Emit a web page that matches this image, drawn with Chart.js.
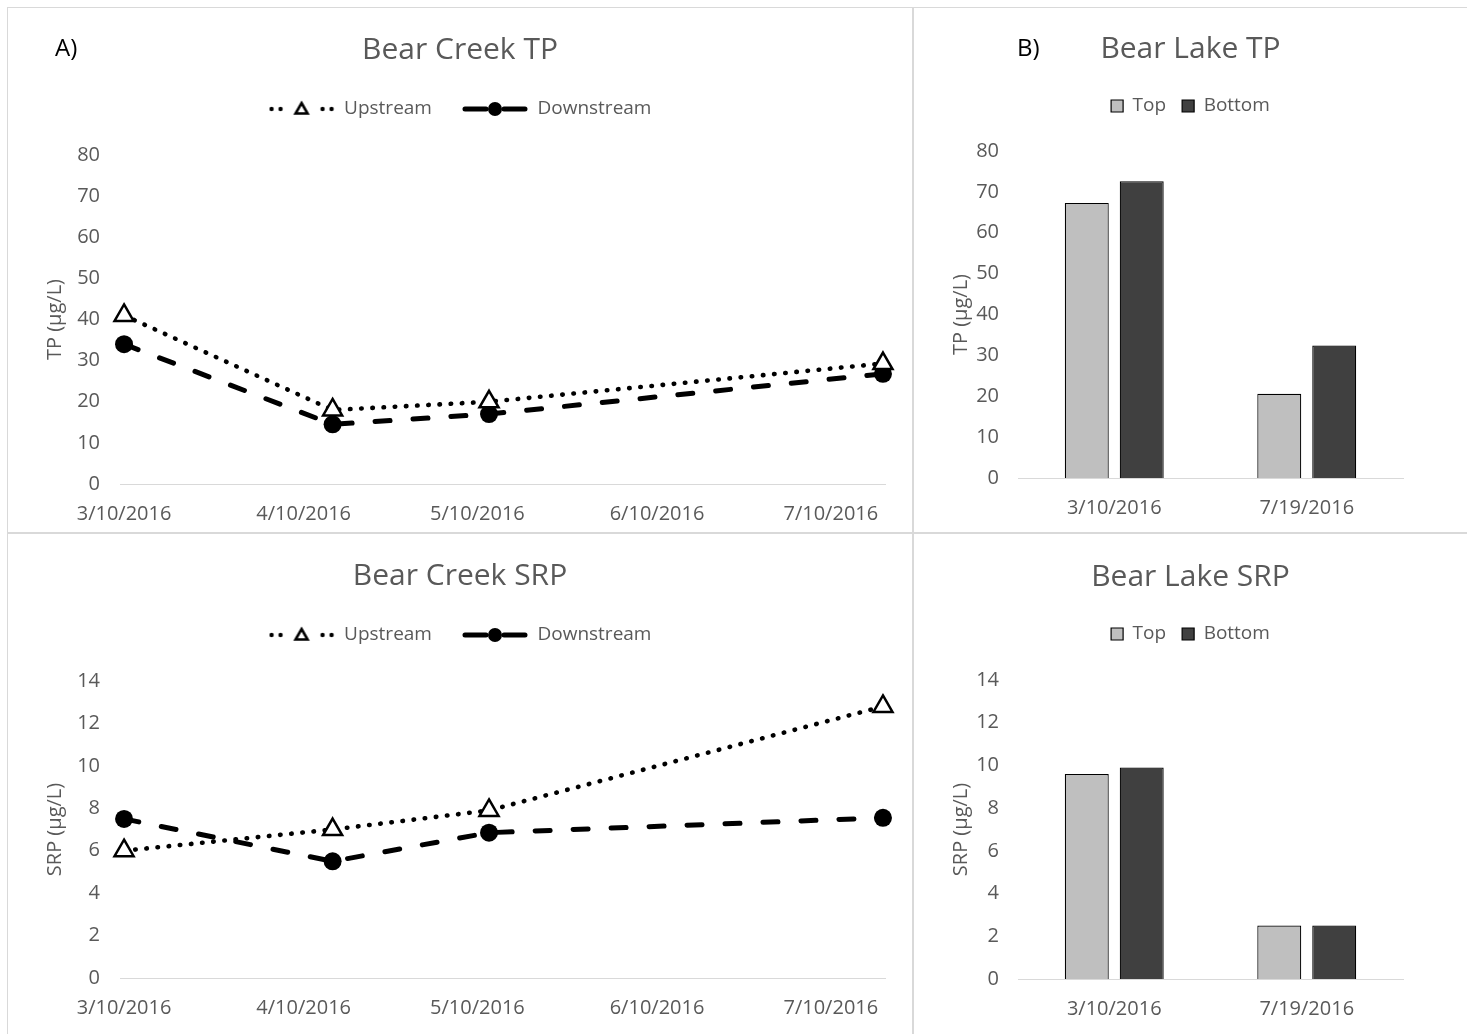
<!DOCTYPE html>
<html>
<head>
<meta charset="utf-8">
<script src="https://cdn.jsdelivr.net/npm/chart.js@4.4.1/dist/chart.umd.min.js"></script>
<style>
body{margin:0;background:#fff;width:1467px;height:1034px;overflow:hidden;position:relative;}
.painel{position:absolute;border:1px solid #d9d9d9;}
.painel canvas{display:block;}
#p1{left:7px;top:7px;}
#p2{left:913px;top:7px;}
#p3{left:7px;top:533px;}
#p4{left:913px;top:533px;}
</style>
</head>
<body>

<div class="painel" id="p1"><canvas id="graficoCreekTP" width="904" height="524"></canvas></div>
<div class="painel" id="p2"><canvas id="graficoLakeTP" width="553" height="524"></canvas></div>
<div class="painel" id="p3"><canvas id="graficoCreekSRP" width="904" height="500"></canvas></div>
<div class="painel" id="p4"><canvas id="graficoLakeSRP" width="553" height="500"></canvas></div>

<script>

// datas das coletas no riacho e rótulos do eixo x
const datasCreek = ["3/10/2016", "4/15/2016", "5/12/2016", "7/19/2016"];
const datasEixo = ["3/10/2016", "4/10/2016", "5/10/2016", "6/10/2016", "7/10/2016"];

const tpUpstream = [41, 18, 20, 29.3];
const tpDownstream = [34, 14.5, 17, 26.8];

const srpUpstream = [6.0, 7.0, 7.9, 12.8];
const srpDownstream = [7.5, 5.5, 6.85, 7.55];

// lago
const datasLake = ["3/10/2016", "7/19/2016"];

const tpTop = [67.3, 20.6];
const tpBottom = [72.6, 32.4];

const srpTop = [9.6, 2.5];
const srpBottom = [9.9, 2.5];

const FONTE = "'Open Sans', sans-serif";
const CINZA = "#595959";

Chart.defaults.font.family = FONTE;
Chart.defaults.color = CINZA;

///////////////////////////////////////////////////////////////

function diasDesde(data){

    const [m, d, a] = data.split("/").map(Number);

    return (Date.UTC(a, m - 1, d) - Date.UTC(2016, 2, 10)) / 86400000;

}

///////////////////////////////////////////////////////////////

// marcadores da legenda (linha + símbolo), como no Excel

function criarMarcadorUpstream(){

    const c = document.createElement("canvas");
    c.width = 66;
    c.height = 20;
    const ctx = c.getContext("2d");

    ctx.fillStyle = "#000";
    [3, 12, 54, 63].forEach(x => {
        ctx.beginPath();
        ctx.arc(x, 10, 2.2, 0, Math.PI * 2);
        ctx.fill();
    });

    ctx.beginPath();
    ctx.moveTo(33, 4);
    ctx.lineTo(39, 14.5);
    ctx.lineTo(27, 14.5);
    ctx.closePath();
    ctx.fillStyle = "#fff";
    ctx.fill();
    ctx.lineWidth = 2.6;
    ctx.strokeStyle = "#000";
    ctx.stroke();

    return c;

}

function criarMarcadorDownstream(){

    const c = document.createElement("canvas");
    c.width = 66;
    c.height = 20;
    const ctx = c.getContext("2d");

    ctx.strokeStyle = "#000";
    ctx.lineWidth = 5;
    ctx.lineCap = "round";
    ctx.beginPath();
    ctx.moveTo(3, 10);
    ctx.lineTo(24, 10);
    ctx.moveTo(42, 10);
    ctx.lineTo(63, 10);
    ctx.stroke();

    ctx.beginPath();
    ctx.arc(33, 10, 7, 0, Math.PI * 2);
    ctx.fillStyle = "#000";
    ctx.fill();

    return c;

}

const marcadoresLegenda = [criarMarcadorUpstream(), criarMarcadorDownstream()];

///////////////////////////////////////////////////////////////

function rotuloPainel(texto, x, y){

    return {
        id: "rotuloPainel",
        afterDraw(chart){
            const ctx = chart.ctx;
            ctx.save();
            ctx.font = "24px " + FONTE;
            ctx.fillStyle = "#000";
            ctx.textBaseline = "middle";
            ctx.fillText(texto, x, y);
            ctx.restore();
        }
    };

}

// eixo vazio à direita: só reserva espaço, sem descentralizar título e legenda
function margemDireita(largura){

    return {
        type: "linear",
        position: "right",
        display: true,
        grid: {display: false, drawTicks: false},
        border: {display: false},
        ticks: {display: false},
        afterFit(escala){
            escala.width = largura;
        }
    };

}

///////////////////////////////////////////////////////////////

function desenharGraficoLinha(id, titulo, eixoY, up, down, maxY, passo, fundo, rotulo){

    const canvas = document.getElementById(id);
    const altura = canvas.height;

    const dias = datasCreek.map(diasDesde);
    const diasTicks = datasEixo.map(diasDesde);

    new Chart(canvas, {

        type: "line",

        data: {

            datasets: [
                {
                    label: "Upstream",
                    data: up.map((v, i) => ({x: dias[i], y: v})),
                    borderColor: "#000",
                    borderWidth: 4.6,
                    borderDash: [0.5, 10.7],
                    borderCapStyle: "round",
                    pointStyle: "triangle",
                    pointRadius: 11,
                    pointBackgroundColor: "#fff",
                    pointBorderColor: "#000",
                    pointBorderWidth: 2.5,
                    clip: false
                },
                {
                    label: "Downstream",
                    data: down.map((v, i) => ({x: dias[i], y: v})),
                    borderColor: "#000",
                    borderWidth: 5,
                    borderDash: [15, 23],
                    borderCapStyle: "round",
                    pointStyle: "circle",
                    pointRadius: 9,
                    pointBackgroundColor: "#000",
                    pointBorderColor: "#000",
                    pointBorderWidth: 0,
                    clip: false
                }
            ]

        },

        options: {

            responsive: false,
            animation: false,
            devicePixelRatio: 1,
            events: [],

            layout: {
                padding: 0
            },

            plugins: {

                title: {
                    display: true,
                    text: titulo,
                    color: CINZA,
                    font: {size: 30, weight: "normal"},
                    padding: {top: 24.5, bottom: 1}
                },

                // espaço entre a legenda e a área do gráfico
                subtitle: {
                    display: true,
                    text: "",
                    weight: 500,
                    font: {size: 10, lineHeight: 1},
                    padding: {top: 0, bottom: 16.5}
                },

                legend: {
                    display: true,
                    labels: {
                        usePointStyle: true,
                        pointStyleWidth: 66,
                        padding: 30,
                        color: CINZA,
                        font: {size: 19},
                        generateLabels(chart){
                            const itens = Chart.defaults.plugins.legend.labels.generateLabels(chart);
                            itens.forEach((item, i) => { item.pointStyle = marcadoresLegenda[i]; });
                            return itens;
                        }
                    }
                },

                tooltip: {enabled: false}

            },

            scales: {

                x: {
                    type: "linear",
                    min: -0.7,
                    max: 131.35,
                    afterBuildTicks(escala){
                        escala.ticks = diasTicks.map(v => ({value: v}));
                    },
                    ticks: {
                        font: {size: 20},
                        color: CINZA,
                        padding: 18,
                        maxRotation: 0,
                        autoSkip: false,
                        callback: (v, i) => datasEixo[i]
                    },
                    grid: {display: false, drawTicks: false},
                    border: {display: true, color: "#d9d9d9", width: 1},
                    afterFit(escala){
                        escala.height = altura - fundo;
                    }
                },

                y: {
                    min: 0,
                    max: maxY,
                    ticks: {
                        stepSize: passo,
                        font: {size: 20},
                        color: CINZA,
                        padding: 20
                    },
                    grid: {display: false, drawTicks: false},
                    border: {display: false},
                    title: {
                        display: true,
                        text: eixoY,
                        color: CINZA,
                        font: {size: 20},
                        padding: {top: 35, bottom: 0}
                    },
                    afterFit(escala){
                        escala.width = 112;
                    }
                },

                direita: margemDireita(27)

            }

        },

        plugins: rotulo ? [rotulo] : []

    });

}

///////////////////////////////////////////////////////////////

function desenharGraficoBarras(id, titulo, eixoY, top, bottom, maxY, passo, fundo, tituloTopo, espaco, rotulo){

    const canvas = document.getElementById(id);
    const altura = canvas.height;

    new Chart(canvas, {

        type: "bar",

        data: {

            labels: datasLake,

            datasets: [
                {
                    label: "Top",
                    data: top,
                    backgroundColor: "#bfbfbf",
                    borderColor: "#000",
                    borderWidth: 1.2,
                    categoryPercentage: 0.571,
                    barPercentage: 0.8
                },
                {
                    label: "Bottom",
                    data: bottom,
                    backgroundColor: "#404040",
                    borderColor: "#000",
                    borderWidth: 1.2,
                    categoryPercentage: 0.571,
                    barPercentage: 0.8
                }
            ]

        },

        options: {

            responsive: false,
            animation: false,
            devicePixelRatio: 1,
            events: [],

            layout: {
                padding: 0
            },

            plugins: {

                title: {
                    display: true,
                    text: titulo,
                    color: CINZA,
                    font: {size: 30, weight: "normal"},
                    padding: {top: tituloTopo, bottom: 13.5}
                },

                subtitle: {
                    display: true,
                    text: "",
                    weight: 500,
                    font: {size: 10, lineHeight: 1},
                    padding: {top: 0, bottom: espaco}
                },

                legend: {
                    display: true,
                    labels: {
                        boxWidth: 12,
                        boxHeight: 12,
                        padding: 16,
                        color: CINZA,
                        font: {size: 19}
                    }
                },

                tooltip: {enabled: false}

            },

            scales: {

                x: {
                    ticks: {
                        font: {size: 20},
                        color: CINZA,
                        padding: 18,
                        maxRotation: 0
                    },
                    grid: {display: false, drawTicks: false},
                    border: {display: true, color: "#d9d9d9", width: 1},
                    afterFit(escala){
                        escala.height = altura - fundo;
                    }
                },

                y: {
                    min: 0,
                    max: maxY,
                    ticks: {
                        stepSize: passo,
                        font: {size: 20},
                        color: CINZA,
                        padding: 19
                    },
                    grid: {display: false, drawTicks: false},
                    border: {display: false},
                    title: {
                        display: true,
                        text: eixoY,
                        color: CINZA,
                        font: {size: 20},
                        padding: {top: 35, bottom: 0}
                    },
                    afterFit(escala){
                        escala.width = 104;
                    }
                },

                direita: margemDireita(64)

            }

        },

        plugins: rotulo ? [rotulo] : []

    });

}

///////////////////////////////////////////////////////////////

desenharGraficoLinha("graficoCreekTP", "Bear Creek TP", "TP (µg/L)", tpUpstream, tpDownstream, 80, 10, 476, rotuloPainel("A)", 47, 41));

desenharGraficoLinha("graficoCreekSRP", "Bear Creek SRP", "SRP (µg/L)", srpUpstream, srpDownstream, 14, 2, 444, null);

desenharGraficoBarras("graficoLakeTP", "Bear Lake TP", "TP (µg/L)", tpTop, tpBottom, 80, 10, 470, 23, 15.5, rotuloPainel("B)", 103, 41));

desenharGraficoBarras("graficoLakeSRP", "Bear Lake SRP", "SRP (µg/L)", srpTop, srpBottom, 14, 2, 445, 25, 16.5, null);

</script>
</body>
</html>
